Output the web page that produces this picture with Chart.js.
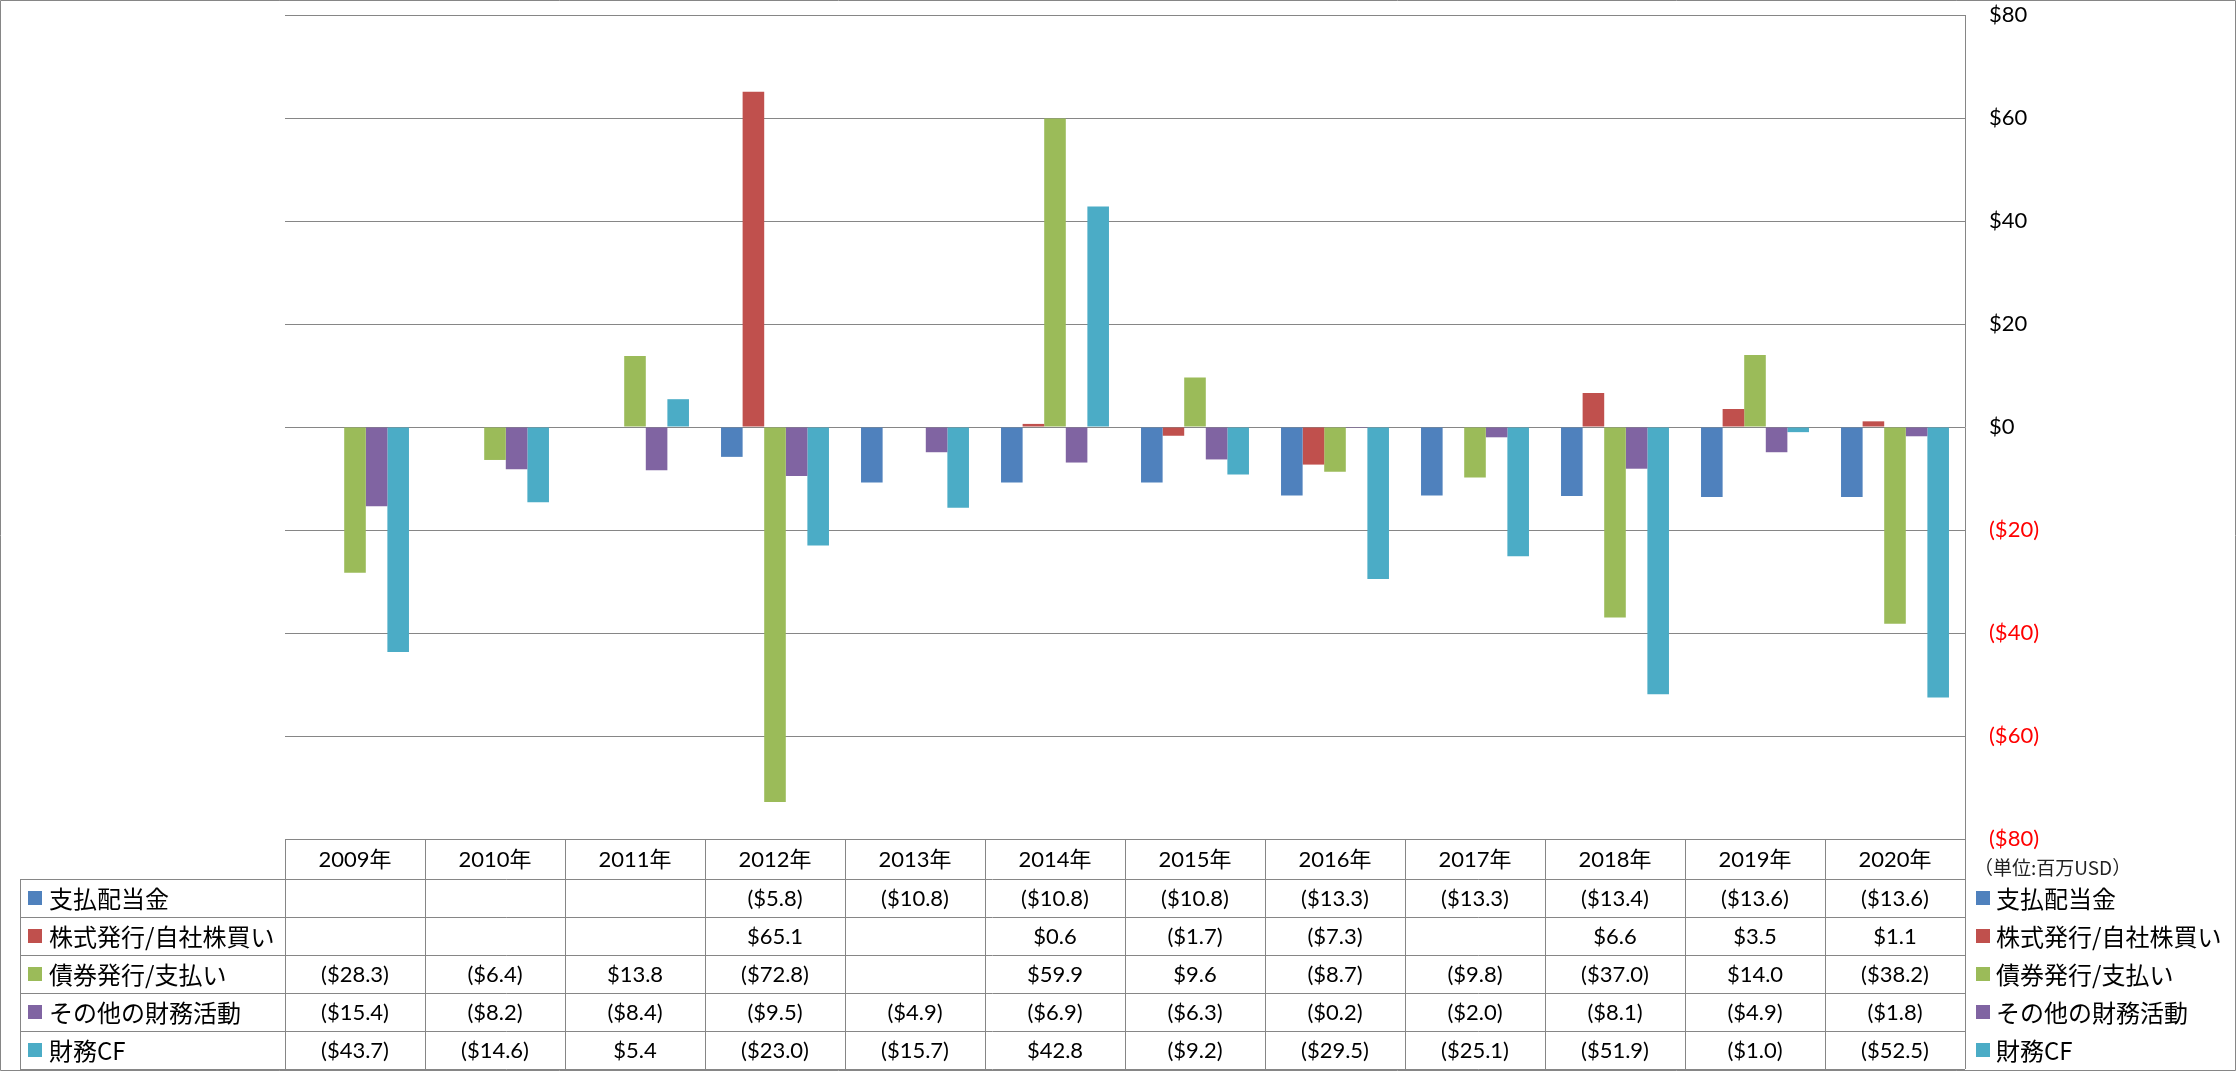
<!DOCTYPE html>
<html lang="ja">
<head>
<meta charset="utf-8">
<script src="https://cdn.jsdelivr.net/npm/chart.js@4.4.0/dist/chart.umd.min.js"></script>
<style>
body{margin:0;background:#fff;}
canvas{display:block;}
</style>
</head>
<body>
<canvas id="myCanvasCF" width="2236" height="1071"></canvas>
<script>
/*
*Chart data (百万USD)
*/
const years = ['2009年','2010年','2011年','2012年','2013年','2014年','2015年','2016年','2017年','2018年','2019年','2020年'];
const dividends = [null, null, null, -5.8, -10.8, -10.8, -10.8, -13.3, -13.3, -13.4, -13.6, -13.6];
const equity = [null, null, null, 65.1, null, 0.6, -1.7, -7.3, null, 6.6, 3.5, 1.1];
const debt = [-28.3, -6.4, 13.8, -72.8, null, 59.9, 9.6, -8.7, -9.8, -37.0, 14.0, -38.2];
const otherActivities = [-15.4, -8.2, -8.4, -9.5, -4.9, -6.9, -6.3, -0.2, -2.0, -8.1, -4.9, -1.8];
const financingCF = [-43.7, -14.6, 5.4, -23.0, -15.7, 42.8, -9.2, -29.5, -25.1, -51.9, -1.0, -52.5];
const seriesNames = ['支払配当金','株式発行/自社株買い','債券発行/支払い','その他の財務活動','財務CF'];
const seriesValues = [dividends, equity, debt, otherActivities, financingCF];
const yMin = -80;
const yMax = 80;
const yStep = 20;
const unitNote = '（単位:百万USD）';

/*
*Colors and fonts
*/
const colors = ['#4F81BD','#C0504D','#9BBB59','#8064A2','#4BACC6'];
const lineColor = '#868686';
const numFont = '22px Lato, "Noto Sans CJK JP", sans-serif';
const labelFont = '24px "Noto Sans CJK JP", sans-serif';

/*
*Format a value like the data table: ($5.8) / $65.1
*/
function money(v){
    if(v === null) return '';
    return v < 0 ? '($' + (-v).toFixed(1) + ')' : '$' + v.toFixed(1);
}

/*
*Draws the data table, the right legend and the outer border
*/
const tablePlugin = {
    id: 'dataTable',
    afterDraw(chart){
        const ctx = chart.ctx;
        const area = chart.chartArea;
        const xScale = chart.scales.x;
        const colW = (area.right - area.left) / years.length;
        const headTop = Math.round(area.bottom);
        const headBottom = headTop + 40;
        const rowH = 38;
        const tableBottom = headBottom + rowH * seriesNames.length;
        const labelLeft = 20;
        ctx.save();
        ctx.strokeStyle = lineColor;
        ctx.lineWidth = 1;
        ctx.beginPath();
        // header row lines
        ctx.moveTo(area.left, headTop + 0.5); ctx.lineTo(area.right, headTop + 0.5);
        for(let r = 0; r <= seriesNames.length; r++){
            const y = headBottom + r * rowH + 0.5;
            ctx.moveTo(labelLeft, y); ctx.lineTo(area.right, y);
        }
        for(let i = 0; i <= years.length; i++){
            const x = Math.round(area.left + i * colW) + 0.5;
            ctx.moveTo(x, headTop); ctx.lineTo(x, tableBottom);
        }
        ctx.moveTo(labelLeft + 0.5, headBottom); ctx.lineTo(labelLeft + 0.5, tableBottom);
        // outer border
        ctx.rect(0.5, 0.5, chart.width - 1, chart.height - 1);
        ctx.stroke();

        ctx.textBaseline = 'middle';
        ctx.fillStyle = '#000';
        ctx.textAlign = 'center';
        ctx.font = numFont;
        for(let i = 0; i < years.length; i++){
            const cx = xScale.getPixelForValue(i);
            ctx.fillText(years[i], cx, (headTop + headBottom) / 2 + 1);
            for(let s = 0; s < seriesValues.length; s++){
                const cy = headBottom + s * rowH + rowH / 2 + 1;
                ctx.fillText(money(seriesValues[s][i]), cx, cy);
            }
        }
        // row labels with legend keys (left and right)
        ctx.textAlign = 'left';
        ctx.font = labelFont;
        for(let s = 0; s < seriesNames.length; s++){
            const cy = headBottom + s * rowH + rowH / 2;
            ctx.fillStyle = colors[s];
            ctx.fillRect(28, cy - 7, 14, 14);
            ctx.fillRect(1976, cy - 7, 14, 14);
            ctx.fillStyle = '#000';
            ctx.fillText(seriesNames[s], 49, cy + 1);
            ctx.fillText(seriesNames[s], 1996, cy + 1);
        }
        ctx.font = '19px "Noto Sans CJK JP", sans-serif';
        ctx.fillStyle = '#222';
        ctx.fillText(unitNote, 1974, headTop + 29);
        ctx.restore();
    }
};

/*
*Draw the bar graphic on screen
*/
function drawGraphic(id){
    const ctx = document.getElementById(id).getContext('2d');
    const datasets = seriesNames.map(function(name, s){
        return {
            label: name,
            data: seriesValues[s],
            backgroundColor: colors[s],
            borderWidth: 0,
            categoryPercentage: 0.771,
            barPercentage: 1
        };
    });
    return new Chart(ctx, {
        type: 'bar',
        data: { labels: years, datasets: datasets },
        options: {
            responsive: false,
            animation: false,
            devicePixelRatio: 1,
            layout: { padding: { left: 285, top: 15, right: 0, bottom: 232 } },
            plugins: { legend: { display: false }, tooltip: { enabled: false } },
            scales: {
                x: { display: false },
                y: {
                    position: 'right',
                    min: yMin,
                    max: yMax,
                    afterFit: function(scale){ scale.width = 271; },
                    // invisible tick marks push the labels away from the axis line
                    grid: { color: lineColor, drawTicks: true, tickLength: 24, tickColor: 'rgba(0,0,0,0)' },
                    border: { display: true, color: lineColor },
                    ticks: {
                        stepSize: yStep,
                        padding: 0,
                        font: { family: 'Lato, sans-serif', size: 22 },
                        color: function(c){ return c.tick && c.tick.value < 0 ? '#FF0000' : '#000000'; },
                        callback: function(v){ return v < 0 ? '($' + (-v) + ')' : '$' + v; }
                    }
                }
            }
        },
        plugins: [tablePlugin]
    });
}

drawGraphic('myCanvasCF');
</script>
</body>
</html>
